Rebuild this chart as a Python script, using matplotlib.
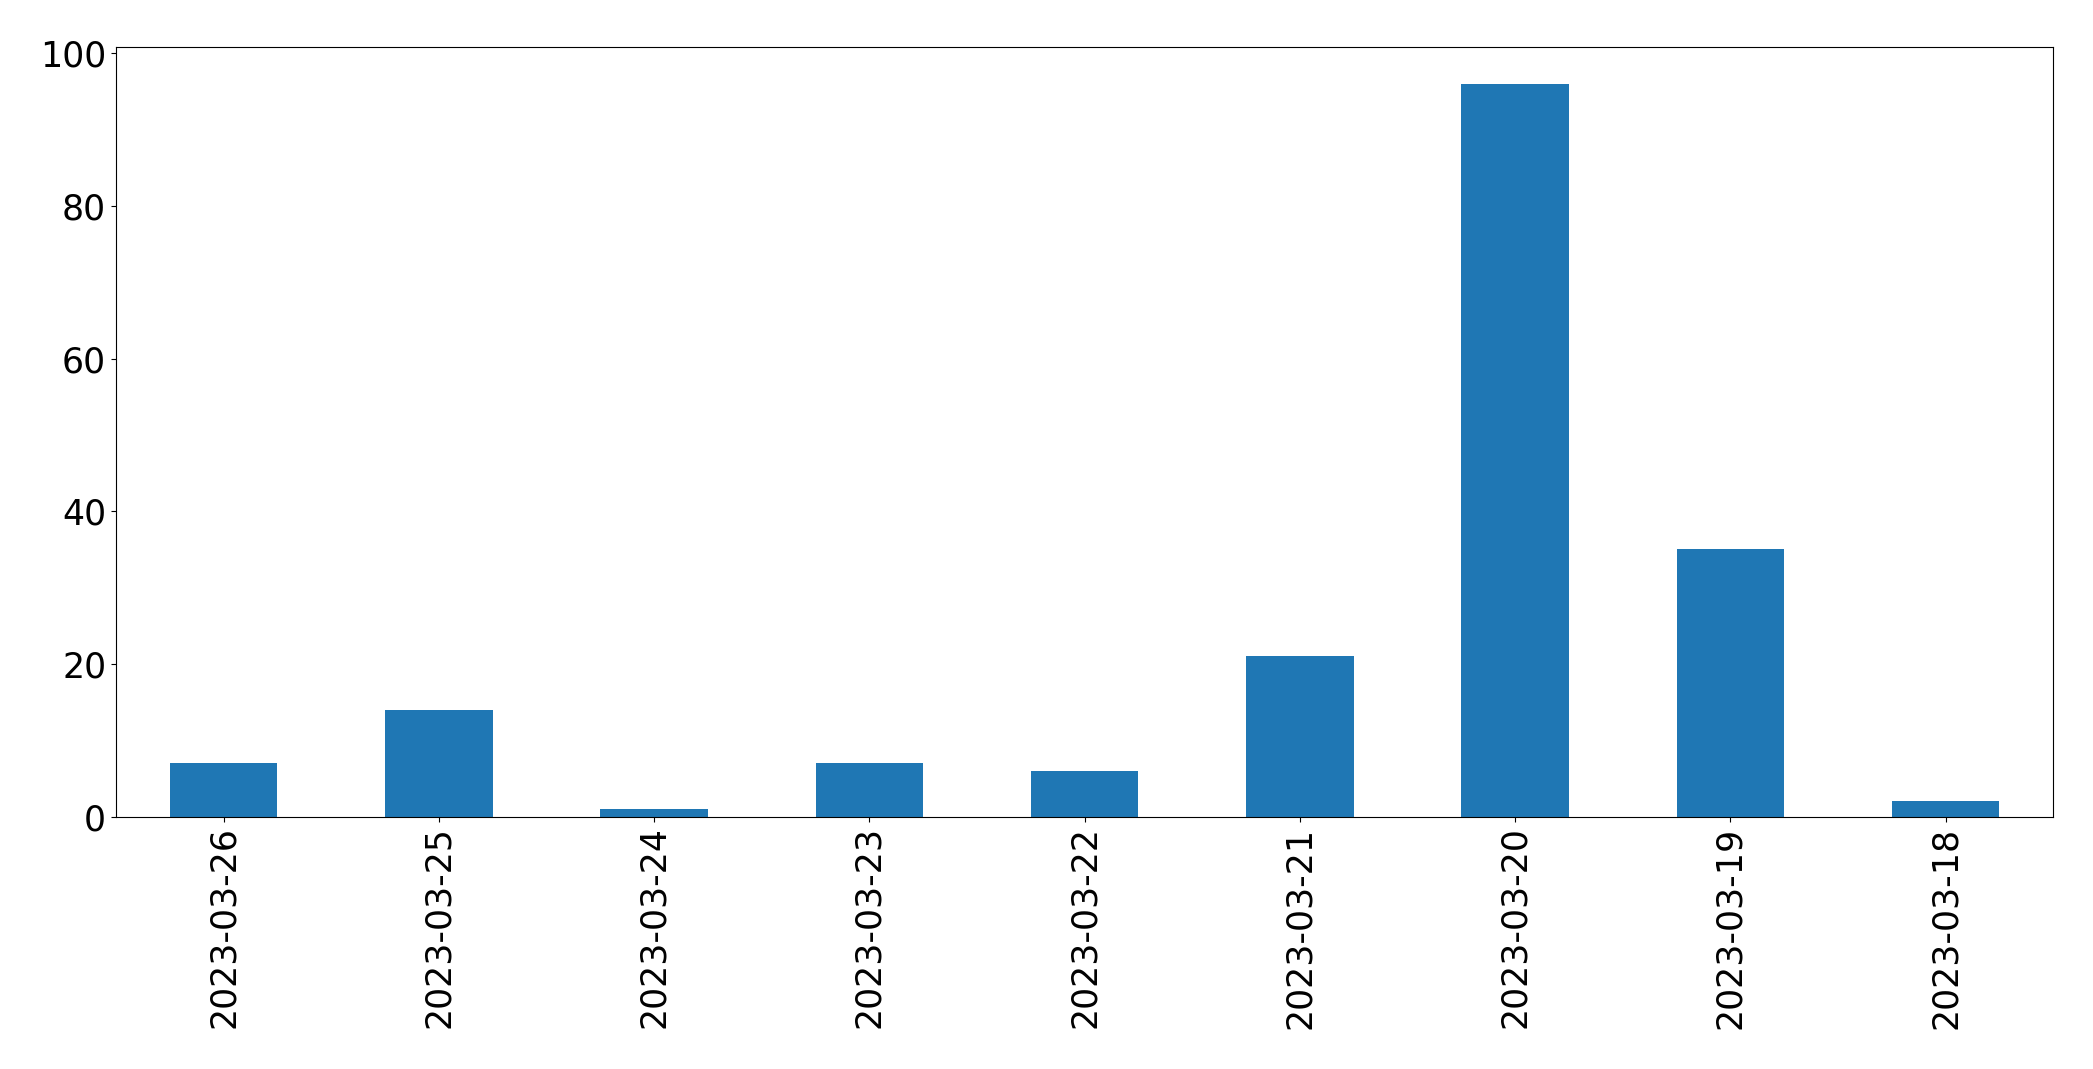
import matplotlib
matplotlib.use('Agg')
import matplotlib.pyplot as plt
import pandas as pd

# Daily counts, newest first (as in the original)
dates = ['2023-03-26', '2023-03-25', '2023-03-24', '2023-03-23', '2023-03-22',
         '2023-03-21', '2023-03-20', '2023-03-19', '2023-03-18']
counts = [7, 14, 1, 7, 6, 21, 96, 35, 2]

plt.rcParams['font.size'] = 25

s = pd.Series(counts, index=dates)

fig, ax = plt.subplots(figsize=(20.93, 10.69), dpi=100)
s.plot(kind='bar', ax=ax, color='#1f77b4')
ax.tick_params(axis='x', labelrotation=90)

plt.subplots_adjust(left=0.0554, right=0.981, top=0.956, bottom=0.236)
plt.savefig('out.png', dpi=100)
plt.close()
